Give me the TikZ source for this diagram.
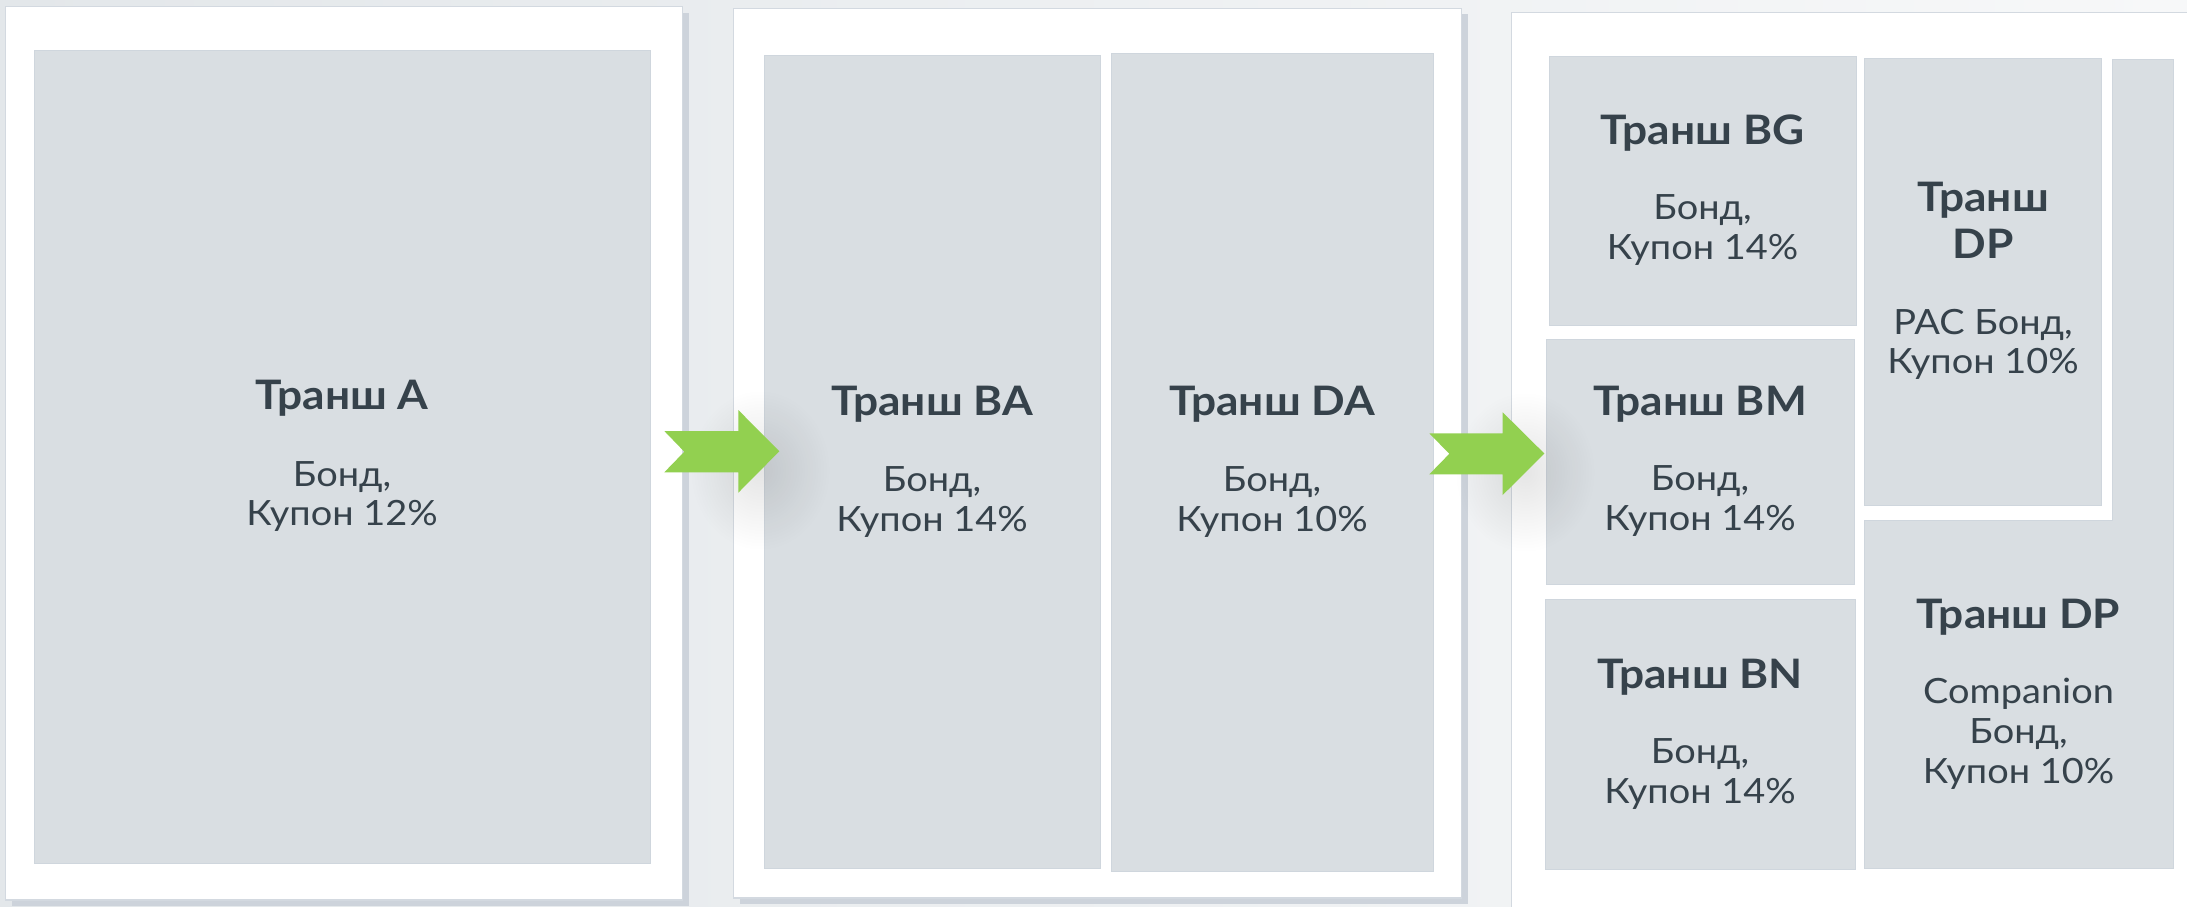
\documentclass[tikz,border=0pt]{standalone}
\usepackage{fontspec}
\setmainfont{Lato}[FakeStretch=1.09]
\usetikzlibrary{fadings}
\tikzfading[name=softspot,inner color=transparent!0,outer color=transparent!100]
\definecolor{bgL}{HTML}{E3E7EA}
\definecolor{bgR}{HTML}{F7F8F9}
\definecolor{panelline}{HTML}{D3D9E0}
\definecolor{shadowc}{HTML}{CDD3DB}
\definecolor{boxfill}{HTML}{D9DEE2}
\definecolor{boxline}{HTML}{CFD6DD}
\definecolor{txt}{HTML}{36424B}
\definecolor{arrowg}{HTML}{92D050}
\begin{document}
\begin{tikzpicture}[x=0.5pt,y=-0.5pt,
  panel/.style={fill=white,draw=panelline,line width=0.6pt},
  pshadow/.style={fill=shadowc},
  tbox/.style={fill=boxfill,draw=boxline,line width=0.5pt},
  ttl/.style={anchor=base,inner sep=0pt,text=txt,font=\fontsize{20.3}{24}\selectfont\bfseries},
  bdy/.style={anchor=base,inner sep=0pt,text=txt,font=\fontsize{17.4}{20}\selectfont},
  glow/.style={fill=black,opacity=0.10,path fading=softspot},
  garrow/.style={fill=arrowg}]
\useasboundingbox (0,0) rectangle (2187,906);
\shade[left color=bgL,right color=bgR] (0,0) rectangle (2187,906);
% panel 1
\fill[pshadow] (11.8,12.7) rectangle (688.5,906);
\draw[panel] (5.8,6.7) rectangle (682.5,900);
\draw[tbox] (34,50) rectangle (650,863);
% panel 2
\fill[pshadow] (739.7,14.3) rectangle (1467.7,904);
\draw[panel] (733.7,8.3) rectangle (1461.7,898);
\draw[tbox] (764,55.7) rectangle (1100,868);
\draw[tbox] (1111,53.3) rectangle (1433,871);
% panel 3
\draw[panel] (2200,12.7) -- (1511.6,12.7) -- (1511.6,920) -- (2200,920);
\draw[tbox] (1549,56) rectangle (1856.5,325);
\draw[tbox] (1864.6,58) rectangle (2101,505);
\draw[tbox] (2112.6,59.3) -- (2173,59.3) -- (2173,868.7) -- (1864.6,868.7) -- (1864.6,520.7) -- (2112.6,520.7) -- cycle;
\draw[tbox] (1546,339) rectangle (1854,584.3);
\draw[tbox] (1545.8,599) rectangle (1855.6,869);
% arrow glows
\fill[glow] (760,470) ellipse [x radius=70, y radius=80];
\fill[glow] (1525,472) ellipse [x radius=70, y radius=80];
% arrows
\fill[garrow] (664.3,431) -- (738.3,431) -- (738.3,410) -- (779.3,451.3) -- (738.3,492.7) -- (738.3,472.3) -- (664.3,472.3) -- (684.3,451.7) -- cycle;
\fill[garrow] (1429.3,433.3) -- (1502.7,433.3) -- (1502.7,412.3) -- (1544.3,453.5) -- (1502.7,495) -- (1502.7,474.3) -- (1429.3,474.3) -- (1449.3,453.8) -- cycle;
% texts panel 1
\node[ttl] (tA) at (342,409.3) {Транш A};
\node[bdy] (tA1) at (342,486) {Бонд,};
\node[bdy] (tA2) at (342,525.7) {Купон 12\%};
% panel 2
\node[ttl] (tBA) at (932,415) {Транш BA};
\node[bdy] (tBA1) at (932,491.5) {Бонд,};
\node[bdy] (tBA2) at (932,531) {Купон 14\%};
\node[ttl] (tDA) at (1272,415) {Транш DA};
\node[bdy] (tDA1) at (1272,491.5) {Бонд,};
\node[bdy] (tDA2) at (1272,531) {Купон 10\%};
% panel 3
\node[ttl] (tBG) at (1702.5,144.3) {Транш BG};
\node[bdy] (tBG1) at (1702.5,219.4) {Бонд,};
\node[bdy] (tBG2) at (1702.5,259) {Купон 14\%};
\node[ttl] (tDP) at (1983,211.5) {Транш};
\node[ttl] (tDPb) at (1983,258) {DP};
\node[bdy] (tDP1) at (1983,334) {PAC Бонд,};
\node[bdy] (tDP2) at (1983,373) {Купон 10\%};
\node[ttl] (tBM) at (1700,415) {Транш BM};
\node[bdy] (tBM1) at (1700,490.5) {Бонд,};
\node[bdy] (tBM2) at (1700,530) {Купон 14\%};
\node[ttl] (tBN) at (1700,688.3) {Транш BN};
\node[bdy] (tBN1) at (1700,763.4) {Бонд,};
\node[bdy] (tBN2) at (1700,803.5) {Купон 14\%};
\node[ttl] (tDC) at (2018.5,628) {Транш DP};
\node[bdy] (tDC1) at (2018.5,703) {Companion};
\node[bdy] (tDC2) at (2018.5,743) {Бонд,};
\node[bdy] (tDC3) at (2018.5,783) {Купон 10\%};
\end{tikzpicture}
\end{document}
